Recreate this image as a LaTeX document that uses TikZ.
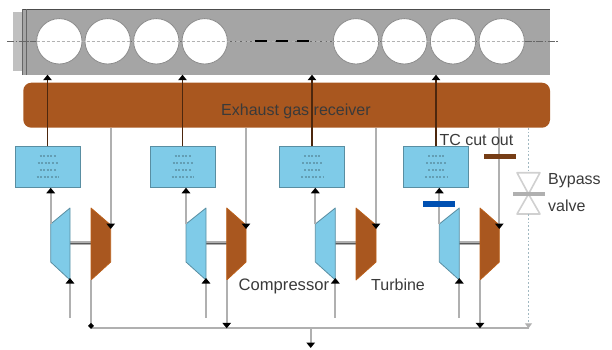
\documentclass[tikz,border=0pt]{standalone}
\usepackage{fontspec}
\setmainfont{Liberation Sans}
\usetikzlibrary{arrows.meta}
\definecolor{Engine}{HTML}{A5A5A5}
\definecolor{Rust}{HTML}{A9571F}
\definecolor{Sky}{HTML}{7FCBE8}
\definecolor{Pipe}{HTML}{B0B0B0}
\definecolor{Ink}{HTML}{3A3A3A}
\tikzset{
    cylnode/.style={circle, fill=white, draw=gray!90, line width=0.8pt, minimum size=45.4pt, inner sep=0pt, outer sep=0pt},
    coolernode/.style={rectangle, fill=Sky, draw=Sky!70!black, line width=0.9pt, minimum width=65pt, minimum height=41.5pt, outer sep=0pt,
        path picture={
            \draw[Sky!45!black, line width=1.8pt, dash pattern=on 2pt off 1.6pt, opacity=0.4]
                ([shift={(-8,-11)}]path picture bounding box.center) -- ++(16,0)
                ([shift={(-10,-4)}]path picture bounding box.center) -- ++(20,0)
                ([shift={(-8,3)}]path picture bounding box.center) -- ++(16,0)
                ([shift={(-11,10)}]path picture bounding box.center) -- ++(22,0);
        }},
    labelnode/.style={text=Ink, font=\fontsize{16}{18}\selectfont, inner sep=0pt, anchor=base west},
    barnode/.style={rectangle, minimum width=32pt, minimum height=5.5pt, inner sep=0pt},
    compressor/.style={fill=Sky, draw=Sky!70!black, line width=0.8pt, line join=round},
    turbine/.style={fill=Rust, draw=Rust!80!orange, line width=0.8pt, line join=round},
    shaft/.style={draw=Pipe, line width=4pt},
    shaftcore/.style={draw=gray!70!black, line width=1pt},
    pipe/.style={draw=Pipe, line width=2.2pt},
    arrow/.style={-{Triangle[length=5.5pt, width=8.5pt, black]}, pipe},
    uparrow/.style={-{Triangle[length=5.5pt, width=8.5pt, black]}, draw=Rust!45!black, line width=1.2pt},
    bypass/.style={draw=Pipe!70!Sky, line width=1.8pt, dotted},
}

\begin{document}
\begin{tikzpicture}[x=1pt, y=-1pt]
    \useasboundingbox (0,0) rectangle (612,349);

    % Engine block
    \fill[Engine!70!white] (12.7,11.7) rectangle (22.7,71);
    \node[rectangle, fill=Engine, minimum width=527.3pt, minimum height=65.4pt, inner sep=0pt, outer sep=0pt] (engine) at (286.35,42) {};
    \draw[gray!60!black, line width=0.8pt] (22.7,9.3) -- (550,9.3);
    \draw[gray!80!black, line width=1pt] (26.5,9.3) -- (26.5,74.7);
    \draw[gray!80!black, line width=0.8pt] (22.7,9.3) -- (22.7,74.7);
    \draw[gray!80!black, line width=0.5pt, dash pattern=on 7pt off 1.5pt on 1.5pt off 1.5pt] (7,41.3) -- (557.6,41.3);

    % Cylinders
    \node[cylnode] (cyl1) at (59.3,41.3) {};
    \node[cylnode] (cyl2) at (107.7,41.3) {};
    \node[cylnode] (cyl3) at (156.3,41.3) {};
    \node[cylnode] (cyl4) at (204.7,41.3) {};
    \node[cylnode] (cyl5) at (356,41.3) {};
    \node[cylnode] (cyl6) at (404.3,41.3) {};
    \node[cylnode] (cyl7) at (453,41.3) {};
    \node[cylnode] (cyl8) at (501.7,41.3) {};
    \draw[gray!60, line width=0.7pt, dash pattern=on 3pt off 2pt] (cyl1.west) -- (cyl8.east);
    \draw[black, line width=1.8pt] (255,41.3) -- +(12,0) (276,41.3) -- +(12,0) (297,41.3) -- +(12,0);

    % Exhaust gas receiver
    \node[rectangle, rounded corners=8pt, fill=Rust, minimum width=526.7pt, minimum height=45pt, inner sep=0pt, outer sep=0pt] (receiver) at (286.65,105.2) {};
    \node[labelnode] (receivertext) at (221,115) {Exhaust gas receiver};

    % Air coolers
    \node[coolernode] (cooler1) at (47.5,167) {};
    \node[coolernode] (cooler2) at (182.5,167) {};
    \node[coolernode] (cooler3) at (312,167) {};
    \node[coolernode] (cooler4) at (436,167) {};

    % Bus
    \coordinate (busL) at (91,328.3);
    \coordinate (busR) at (529,328.3);
    \coordinate (busT) at (310.7,328.3);
    \coordinate (drain) at (310.7,348);
    \draw[pipe] (busL) -- (busR);
    \draw[arrow, line width=1.6pt] (busT) -- (drain);

    % Unit 1
    \draw[shaft] (70,243) -- (91,243);
    \draw[shaftcore] (70,243) -- (91,243);
    \draw[compressor] (50.7,224) coordinate (c1out) -- (70,208) -- (70,280) coordinate (c1in) -- (50.7,262) -- cycle;
    \draw[turbine] (91,208) -- (110.7,225) coordinate (t1in) -- (110.7,262) -- (91,280) coordinate (t1out) -- cycle;
    \coordinate (air1) at (70,318);
    \draw[uparrow] (cooler1.north) -- (cooler1.north |- engine.south);
    \draw[arrow] (c1out) -- (c1out |- cooler1.south);
    \draw[arrow, shorten >=-4pt] (receiver.south -| t1in) -- (t1in);
    \draw[arrow, shorten >=-2pt] (air1) -- (c1in);
    \draw[pipe, -{Circle[length=5pt, black]}] (t1out) -- (t1out |- busL);

    % Unit 2
    \draw[shaft] (206,243) -- (226.7,243);
    \draw[shaftcore] (206,243) -- (226.7,243);
    \draw[compressor] (186,224) coordinate (c2out) -- (206,208) -- (206,280) coordinate (c2in) -- (186,262) -- cycle;
    \draw[turbine] (226.7,208) -- (246,225) coordinate (t2in) -- (246,262) -- (226.7,280) coordinate (t2out) -- cycle;
    \coordinate (air2) at (206,318);
    \draw[uparrow] (cooler2.north) -- (cooler2.north |- engine.south);
    \draw[arrow] (c2out) -- (c2out |- cooler2.south);
    \draw[arrow, shorten >=-4pt] (receiver.south -| t2in) -- (t2in);
    \draw[arrow, shorten >=-2pt] (air2) -- (c2in);
    \draw[arrow] (t2out) -- (t2out |- busL);

    % Unit 3
    \draw[shaft] (335.3,243) -- (356,243);
    \draw[shaftcore] (335.3,243) -- (356,243);
    \draw[compressor] (315.3,224) coordinate (c3out) -- (335.3,208) -- (335.3,280) coordinate (c3in) -- (315.3,262) -- cycle;
    \draw[turbine] (356,208) -- (376,225) coordinate (t3in) -- (376,262) -- (356,280) -- cycle;
    \coordinate (air3) at (335.3,318);
    \draw[uparrow] (cooler3.north) -- (cooler3.north |- engine.south);
    \draw[arrow] (c3out) -- (c3out |- cooler3.south);
    \draw[arrow, shorten >=-4pt] (receiver.south -| t3in) -- (t3in);
    \draw[arrow, shorten >=-2pt] (air3) -- (c3in);

    % Unit 4
    \draw[shaft] (459.3,243) -- (480,243);
    \draw[shaftcore] (459.3,243) -- (480,243);
    \draw[compressor] (439.3,224) coordinate (c4out) -- (459.3,208) -- (459.3,280) coordinate (c4in) -- (439.3,262) -- cycle;
    \draw[turbine] (480,208) -- (499.3,225) coordinate (t4in) -- (499.3,262) -- (480,280) coordinate (t4out) -- cycle;
    \coordinate (air4) at (459.3,318);
    \draw[uparrow] (cooler4.north) -- (cooler4.north |- engine.south);
    \draw[arrow] (c4out) -- (c4out |- cooler4.south);
    \draw[arrow, shorten >=-4pt] (receiver.south -| t4in) -- (t4in);
    \draw[arrow, shorten >=-2pt] (air4) -- (c4in);
    \draw[arrow] (t4out) -- (t4out |- busL);

    % Cut out bars
    \node[barnode, fill=blue!55!cyan!70!black] (cutair) at (438.5,204) {};
    \node[barnode, fill=Rust!70!black] (cutgas) at (500,156.7) {};

    % Bypass valve
    \coordinate (valve) at (528.5,194);
    \coordinate (valveN) at (528.5,172.7);
    \coordinate (valveS) at (528.5,214);
    \draw[Pipe!60, line width=1.6pt, line join=round] (517,172.7) -- (540,172.7) -- (valve) -- cycle;
    \draw[Pipe!60, line width=1.6pt, line join=round] (517,214) -- (540,214) -- (valve) -- cycle;
    \draw[Pipe, line width=4pt] (513,194) -- (545,194);
    \draw[bypass] (receiver.south -| valve) -- (valveN);
    \draw[bypass, -{Triangle[length=5pt, width=7pt, Pipe]}] (valveS) -- (valve |- busR);

    % Labels
    \node[labelnode] (tclabel) at (439.3,145) {TC cut out};
    \node[labelnode, font=\fontsize{16.6}{18}\selectfont] (complabel) at (238.5,290) {Compressor};
    \node[labelnode] (turblabel) at (371,290) {Turbine};
    \node[labelnode] (bypasslabel) at (548,184.3) {Bypass};
    \node[labelnode] (valvelabel) at (548,211) {valve};
\end{tikzpicture}
\end{document}
